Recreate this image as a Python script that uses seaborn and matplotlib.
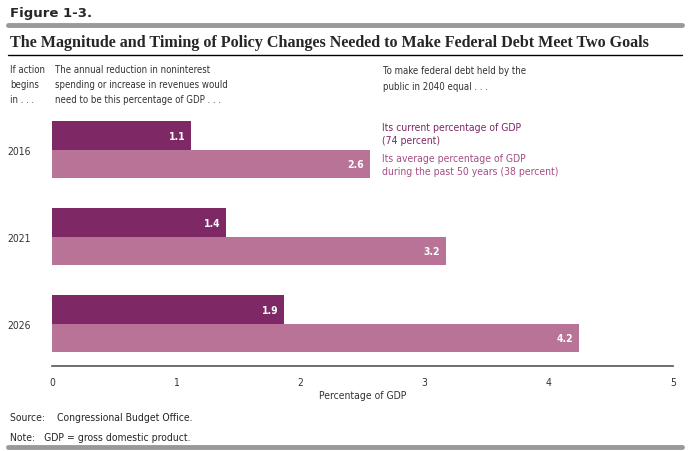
import matplotlib
matplotlib.use("Agg")
import matplotlib.pyplot as plt
import seaborn as sns
import pandas as pd

# data
years = ["2016", "2021", "2026"]
goals = ["Its current percentage of GDP\n(74 percent)",
         "Its average percentage of GDP\nduring the past 50 years (38 percent)"]
current_pct = [1.12, 1.40, 1.87]
average_pct = [2.56, 3.17, 4.24]
labels_current = ["1.1", "1.4", "1.9"]
labels_average = ["2.6", "3.2", "4.2"]
xticks = [0, 1, 2, 3, 4, 5]

df = pd.DataFrame({
    "year": years * 2,
    "goal": [goals[0]] * 3 + [goals[1]] * 3,
    "value": current_pct + average_pct,
})

sns.set_style("white")
plt.rcParams["font.family"] = ["DejaVu Sans"]
plt.rcParams["font.stretch"] = "condensed"

dark = "#7E2965"
light = "#B97397"
grey = "#555555"
txt = "#333333"

fig = plt.figure(figsize=(6.9, 4.52), dpi=100)
W, H = 690, 452
ax = fig.add_axes([52 / W, (H - 367) / H, (673 - 52) / W, (367 - 110) / H])

sns.barplot(data=df, x="value", y="year", hue="goal", orient="h",
            palette=[dark, light], width=0.655, legend=False, ax=ax,
            saturation=1, edgecolor="none")

ax.set_xlim(0, 5)
ax.set_ylim(2.483, -0.47)
ax.set_xticks(xticks)
ax.set_xticklabels([str(t) for t in xticks], fontsize=7.5, color=txt)
ax.set_xlabel("Percentage of GDP", fontsize=7.5, color=txt, labelpad=2)
ax.set_ylabel("")
ax.tick_params(axis="x", direction="in", length=4, color=grey, width=1, pad=8)
ax.tick_params(axis="y", length=0, pad=15, labelsize=7.5, labelcolor=txt)
for s in ["top", "right", "left"]:
    ax.spines[s].set_visible(False)
ax.spines["bottom"].set_color(grey)
ax.spines["bottom"].set_linewidth(1.2)

# value labels inside bar ends
for cont, labs in zip(ax.containers, [labels_current, labels_average]):
    ax.bar_label(cont, labels=labs, padding=-16, color="white",
                 fontsize=7.5, fontweight="bold")

# legend-like annotations beside the 2016 bars
ax.text(2.66, -0.19, goals[0], fontsize=7.5, color=dark, va="center",
        linespacing=1.3)
ax.text(2.66, 0.17, goals[1], fontsize=7.5, color="#A64E84", va="center",
        linespacing=1.3)

# header
fig.text(10 / W, 1 - 13 / H, "Figure 1-3.", fontsize=9.5, fontweight="heavy",
         stretch="normal", va="center")
fig.add_artist(plt.Line2D([8 / W, 682 / W], [1 - 26 / H, 1 - 26 / H],
                          color="#999999", lw=3.5))
fig.text(10 / W, 1 - 43 / H,
         "The Magnitude and Timing of Policy Changes Needed to Make Federal Debt Meet Two Goals",
         fontsize=11.6, fontweight="bold", family=["Liberation Serif"],
         stretch="normal", va="center")
fig.add_artist(plt.Line2D([8 / W, 682 / W], [1 - 56 / H, 1 - 56 / H],
                          color="black", lw=1))

fig.text(10 / W, 1 - 85 / H, "If action\nbegins\nin . . .", fontsize=6.9,
         color=txt, va="center", linespacing=1.65)
fig.text(55 / W, 1 - 85 / H,
         "The annual reduction in noninterest\nspending or increase in revenues would\nneed to be this percentage of GDP . . .",
         fontsize=6.9, color=txt, va="center", linespacing=1.65)
fig.text(383 / W, 1 - 79 / H,
         "To make federal debt held by the\npublic in 2040 equal . . .",
         fontsize=6.9, color=txt, va="center", linespacing=1.65)

# footer
fig.text(10 / W, 1 - 418 / H, "Source:    Congressional Budget Office.",
         fontsize=7.5, va="center")
fig.text(10 / W, 1 - 438 / H, "Note:   GDP = gross domestic product.",
         fontsize=7.5, va="center")
fig.add_artist(plt.Line2D([8 / W, 682 / W], [1 - 448 / H, 1 - 448 / H],
                          color="#999999", lw=3.5))

fig.savefig("out.png", dpi=100)
